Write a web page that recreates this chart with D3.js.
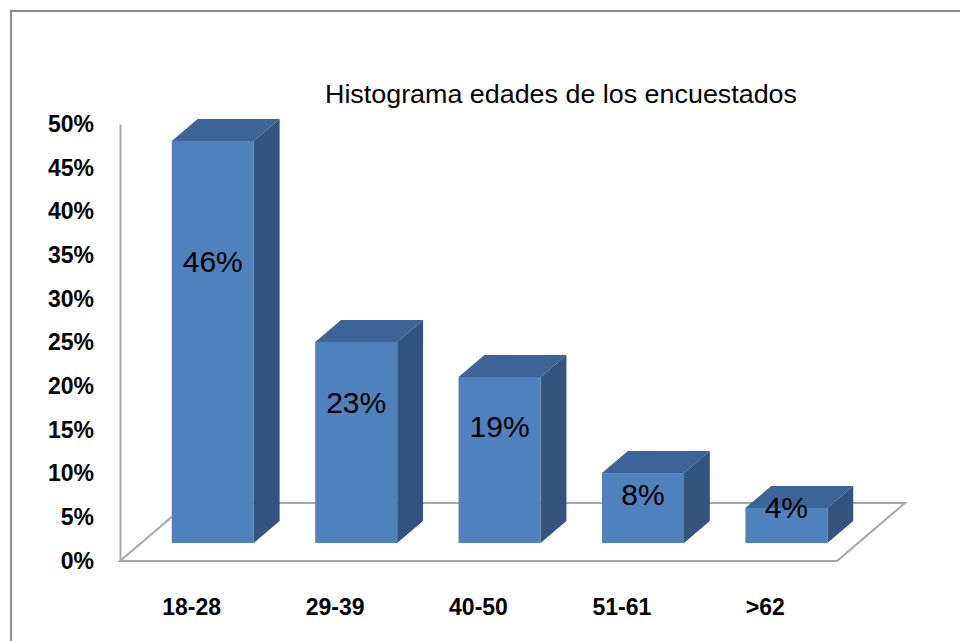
<!DOCTYPE html>
<html>
<head>
<meta charset="utf-8">
<script src="https://cdn.jsdelivr.net/npm/d3@7"></script>
<style>
    body { margin: 0; background: #fff; }
    svg { display: block; font-family: 'Liberation Sans', Arial, sans-serif; }
</style>
</head>
<body>
<div class="container"></div>
<script>
const categories = ['18-28', '29-39', '40-50', '51-61', '>62'];
const values = [0.46, 0.23, 0.19, 0.08, 0.04];
const tickValues = [0, 0.05, 0.10, 0.15, 0.20, 0.25, 0.30, 0.35, 0.40, 0.45, 0.50];
const title = 'Histograma edades de los encuestados';

const w = 960;
const h = 641;

// floor (front edge) and 3D depth vector
const floor = { left: 120, right: 837, bottom: 561, top: 124 };
const depth = { dx: 68, dy: -58 };
const barDepth = [0.31, 0.69]; // bars occupy this slice of the floor depth

const colors = {
    front: '#4f81bd',
    top: '#3d6497',
    side: '#32547e',
    axis: '#a6a6a6',
    border: '#8a8a8a'
};

const svg = d3.select('.container')
    .append('svg')
    .attr('width', w)
    .attr('height', h)
    .attr('viewBox', [0, 0, w, h]);

// outer chart border (runs off the picture right and bottom)
svg.append('path')
    .attr('d', `M${w + 5},11 H11 V${h + 5}`)
    .attr('fill', 'none')
    .attr('stroke', colors.border)
    .attr('stroke-width', 2);

const x = d3.scaleBand()
    .domain(categories)
    .range([floor.left, floor.right])
    .paddingInner(0.428)
    .paddingOuter(0.214);

const y = d3.scaleLinear()
    .domain([0, 0.5])
    .range([floor.bottom, floor.top]);

const off = f => [depth.dx * f, depth.dy * f];

// floor
const [fdx, fdy] = off(1);
svg.append('path')
    .attr('d', `M${floor.left},${floor.bottom} L${floor.right},${floor.bottom} L${floor.right + fdx},${floor.bottom + fdy} L${floor.left + fdx},${floor.bottom + fdy} Z`)
    .attr('fill', 'none')
    .attr('stroke', colors.axis)
    .attr('stroke-width', 2);

// value axis
const yAxis = svg.append('g')
    .attr('transform', `translate(${floor.left},0)`)
    .call(d3.axisLeft(y)
        .tickValues(tickValues)
        .tickFormat(d3.format('.0%'))
        .tickSize(0)
        .tickSizeOuter(0)
        .tickPadding(26));
yAxis.select('.domain')
    .attr('stroke', colors.axis)
    .attr('stroke-width', 2);
yAxis.selectAll('text')
    .attr('font-family', "'Liberation Sans', Arial, sans-serif")
    .attr('font-size', 23)
    .attr('font-weight', 'bold')
    .attr('fill', '#000');

// bars
const [ax, ay] = off(barDepth[0]);
const [bx, by] = off(barDepth[1] - barDepth[0]);
const bars = svg.append('g')
    .selectAll('g')
    .data(categories.map((c, i) => ({ c, v: values[i] })))
    .join('g')
    .attr('transform', `translate(${ax},${ay})`);

bars.append('path')
    .attr('fill', colors.top)
    .attr('d', d => {
        const x0 = x(d.c), x1 = x0 + x.bandwidth(), yt = y(d.v);
        return `M${x0},${yt} L${x0 + bx},${yt + by} L${x1 + bx},${yt + by} L${x1},${yt} Z`;
    });

bars.append('path')
    .attr('fill', colors.side)
    .attr('d', d => {
        const x1 = x(d.c) + x.bandwidth(), yt = y(d.v), yb = y(0);
        return `M${x1},${yt} L${x1 + bx},${yt + by} L${x1 + bx},${yb + by} L${x1},${yb} Z`;
    });

bars.append('rect')
    .attr('fill', colors.front)
    .attr('x', d => x(d.c))
    .attr('y', d => y(d.v))
    .attr('width', x.bandwidth())
    .attr('height', d => y(0) - y(d.v));

// value labels
bars.append('text')
    .attr('x', d => x(d.c) + x.bandwidth() / 2)
    .attr('y', d => Math.min(y(d.v * 0.7), y(0) - 36))
    .attr('dy', '0.35em')
    .attr('text-anchor', 'middle')
    .attr('font-size', 30)
    .attr('fill', '#000')
    .text(d => d3.format('.0%')(d.v));

// category labels
svg.append('g')
    .selectAll('text')
    .data(categories)
    .join('text')
    .attr('x', d => x(d) + x.bandwidth() / 2)
    .attr('y', 607)
    .attr('dy', '0.35em')
    .attr('text-anchor', 'middle')
    .attr('font-size', 23)
    .attr('font-weight', 'bold')
    .text(d => d);

svg.append('text')
    .attr('x', 561)
    .attr('y', 103)
    .attr('text-anchor', 'middle')
    .attr('font-size', 26)
    .attr('textLength', 472)
    .attr('lengthAdjust', 'spacingAndGlyphs')
    .text(title);
</script>
</body>
</html>
